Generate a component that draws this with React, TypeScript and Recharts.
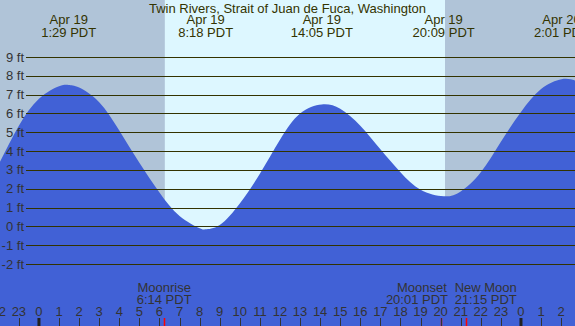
import { ComposedChart, Area, XAxis, YAxis, ReferenceArea, Scatter } from 'recharts'

const TITLE = 'Twin Rivers, Strait of Juan de Fuca, Washington'

// tide height (ft), hours from Apr 19 00:00 PDT
const tideHours = [
  -1.94, -1, 0, 1, 1.48, 2, 3, 4, 5, 6, 7, 8, 8.3, 9, 10, 11, 12, 13, 14.08, 15, 16, 17,
  18, 19, 20.15, 21, 22, 23, 24, 25, 26.02, 26.69,
]
const tideFeet = [
  3.43, 5.35, 6.78, 7.45, 7.52, 7.38, 6.6, 5.1, 3.38, 1.8, 0.55, -0.1, -0.15, 0.08, 1.22,
  2.8, 4.6, 6.0, 6.48, 6.25, 5.35, 4.1, 2.88, 1.95, 1.6, 1.86, 2.88, 4.5, 6.08, 7.3, 7.82,
  7.75,
]

const extremeHours = [1.483, 8.3, 14.083, 20.15, 26.017]
const extremeDates = ['Apr 19', 'Apr 19', 'Apr 19', 'Apr 19', 'Apr 20']
const extremeTimes = ['1:29 PDT', '8:18 PDT', '14:05 PDT', '20:09 PDT', '2:01 PDT']

const moonHours = [6.233, 20.017, 21.25]
const moonEvents = ['Moonrise', 'Moonset', 'New Moon']
const moonTimes = ['6:14 PDT', '20:01 PDT', '21:15 PDT']

const sunrise = 6.267
const sunset = 20.217
const startHour = -1.94
const endHour = 26.69

const hourTicks = [
  -2, -1, 0, 1, 2, 3, 4, 5, 6, 7, 8, 9, 10, 11, 12, 13, 14, 15, 16, 17, 18, 19, 20, 21, 22,
  23, 24, 25, 26,
]
const feetTicks = [-2, -1, 0, 1, 2, 3, 4, 5, 6, 7, 8, 9]

const W = 575
const H = 326
const FT_MIN = -5.29
const FT_MAX = 12.03
const FONT = '"Liberation Sans", Arial, sans-serif'
const NIGHT = '#b0c4d8'
const DAY = '#ddf7ff'
const WATER = '#4161d6'
const INK = '#333300'

// label nudges so Moonset / New Moon don't collide
const moonShift: Record<string, [number, number]> = {
  Moonrise: [0, 0],
  Moonset: [-19, -24],
  'New Moon': [20, 20],
}

const tideData = tideHours.map((t, i) => ({ t, ft: tideFeet[i] }))
const extremeData = extremeHours.map((t, i) => ({
  t,
  y: 0,
  date: extremeDates[i],
  time: extremeTimes[i],
}))
const moonData = moonHours.map((t, i) => ({ t, y: 0, name: moonEvents[i], time: moonTimes[i] }))

function FeetTick({ y, payload }: { y?: number; payload?: { value: number } }) {
  if (y == null || !payload) return null
  const yy = Math.round(y) + 0.5
  return (
    <g>
      <line x1={26} x2={W} y1={yy} y2={yy} stroke={INK} strokeWidth={1} />
      <text x={24} y={y + 4.5} textAnchor="end" fontSize={13} fontFamily={FONT} fill="#333">
        {payload.value} ft
      </text>
    </g>
  )
}

function HourTick({ x, payload }: { x?: number; payload?: { value: number } }) {
  if (x == null || !payload) return null
  const h = ((payload.value % 24) + 24) % 24
  const xx = Math.round(x) + 0.5
  return (
    <g>
      <text x={x} y={316} textAnchor="middle" fontSize={13} fontFamily={FONT} fill="#333">
        {h}
      </text>
      {h === 0 ? (
        <rect x={x - 1.5} y={318} width={3} height={8} fill="#222" />
      ) : (
        <line x1={xx} x2={xx} y1={318} y2={326} stroke="#333" strokeWidth={1} />
      )}
    </g>
  )
}

function ExtremeLabel(props: any) {
  const { cx, payload } = props
  if (cx == null) return null
  return (
    <g fontSize={13} fontFamily={FONT} fill={INK} textAnchor="middle">
      <text x={cx} y={24.3}>{payload.date}</text>
      <text x={cx} y={36.6}>{payload.time}</text>
    </g>
  )
}

function MoonLabel(props: any) {
  const { cx, payload } = props
  if (cx == null) return null
  const [d1, d2] = moonShift[payload.name] ?? [0, 0]
  const xx = Math.round(cx) + 0.5
  return (
    <g fontSize={13} fontFamily={FONT} fill="#333" textAnchor="middle">
      <text x={cx + d1} y={292}>{payload.name}</text>
      <text x={cx + d2} y={303.6}>{payload.time}</text>
      <line x1={xx} x2={xx} y1={318} y2={326} stroke="#ff0000" strokeWidth={1.5} />
    </g>
  )
}

export default function App() {
  return (
    <div
      style={{
        position: 'absolute',
        left: 0,
        top: 0,
        width: W,
        height: H,
        background: NIGHT,
        fontFamily: FONT,
        overflow: 'hidden',
      }}
    >
      <ComposedChart width={W} height={H} data={tideData} margin={{ top: 0, right: 0, bottom: 0, left: 0 }}>
        <XAxis
          dataKey="t"
          type="number"
          domain={[startHour, endHour]}
          ticks={hourTicks}
          interval={0}
          height={30}
          mirror
          axisLine={false}
          tickLine={false}
          allowDataOverflow
          tick={<HourTick />}
        />
        <YAxis
          type="number"
          domain={[FT_MIN, FT_MAX]}
          ticks={feetTicks}
          interval={0}
          width={30}
          mirror
          axisLine={false}
          tickLine={false}
          allowDataOverflow
          tick={<FeetTick />}
        />
        <ReferenceArea x1={startHour} x2={sunrise} fill={NIGHT} fillOpacity={1} stroke="none" zIndex={-200} />
        <ReferenceArea x1={sunrise} x2={sunset} fill={DAY} fillOpacity={1} stroke="none" zIndex={-200} />
        <ReferenceArea x1={sunset} x2={endHour} fill={NIGHT} fillOpacity={1} stroke="none" zIndex={-200} />
        <Area
          type="natural"
          dataKey="ft"
          baseValue={FT_MIN}
          fill={WATER}
          fillOpacity={1}
          stroke="none"
          dot={false}
          activeDot={false}
          isAnimationActive={false}
        />
        <Scatter data={extremeData} dataKey="y" shape={<ExtremeLabel />} isAnimationActive={false} />
        <Scatter data={moonData} dataKey="y" shape={<MoonLabel />} isAnimationActive={false} />
      </ComposedChart>
      <svg
        width={W}
        height={H}
        style={{ position: 'absolute', left: 0, top: 0, pointerEvents: 'none' }}
      >
        <text x={287.5} y={12.6} textAnchor="middle" fontSize={13} fontFamily={FONT} fill={INK}>
          {TITLE}
        </text>
      </svg>
    </div>
  )
}
